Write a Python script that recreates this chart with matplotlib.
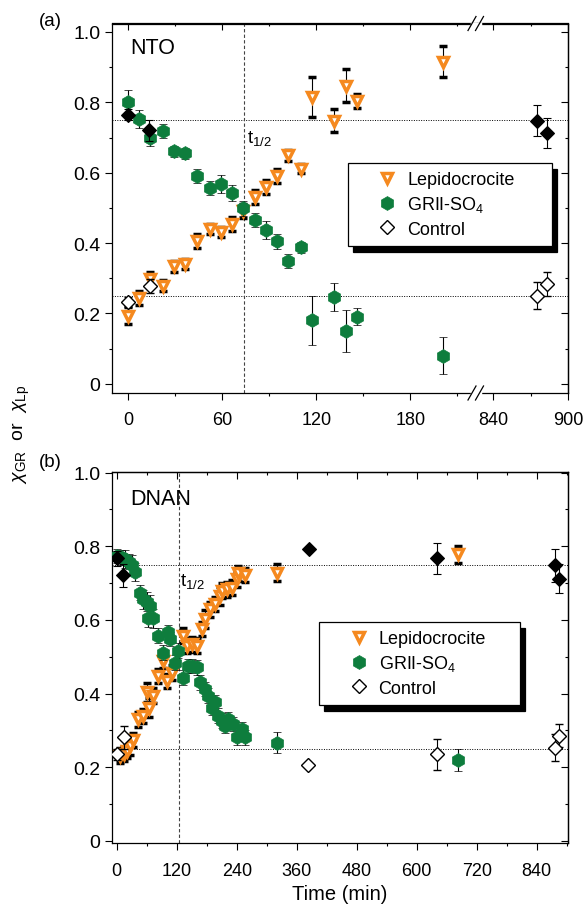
import numpy as np
import matplotlib
matplotlib.use("Agg")
import matplotlib.pyplot as plt
from matplotlib.lines import Line2D
from matplotlib.ticker import FuncFormatter

plt.rcParams['font.family'] = ['Liberation Sans', 'DejaVu Sans']
plt.rcParams['mathtext.fontset'] = 'custom'
plt.rcParams['mathtext.rm'] = 'Liberation Sans'
plt.rcParams['mathtext.it'] = 'Liberation Sans:italic'
plt.rcParams['mathtext.default'] = 'rm'
plt.rcParams['axes.linewidth'] = 0.9

ORANGE = '#F5891F'
GREEN = '#0E7D3D'
W, H = 585, 912     # output size in px (dpi 100)

# ---------------- (a) NTO ----------------
nto_t = [0, 7, 14, 22, 29, 36, 44, 52, 59, 66, 73, 81, 88, 95, 102, 110, 117, 131, 139, 146, 201]
nto_lp = [0.194, 0.243, 0.298, 0.279, 0.334, 0.341, 0.407, 0.44, 0.431, 0.455, 0.49, 0.53, 0.559,
          0.59, 0.649, 0.611, 0.814, 0.748, 0.847, 0.805, 0.916]
nto_lp_err = [0.025, 0.02, 0.02, 0.015, 0.015, 0.015, 0.02, 0.015, 0.015, 0.02, 0.02, 0.02, 0.02,
              0.02, 0.015, 0.013, 0.057, 0.033, 0.047, 0.02, 0.044]
nto_gr = [0.802, 0.753, 0.70, 0.718, 0.661, 0.655, 0.59, 0.556, 0.568, 0.543, 0.499, 0.466, 0.438,
          0.405, 0.35, 0.388, 0.181, 0.248, 0.15, 0.191, 0.08]
nto_gr_err = [0.033, 0.025, 0.025, 0.02, 0.015, 0.015, 0.02, 0.02, 0.025, 0.022, 0.022, 0.02, 0.025,
              0.022, 0.02, 0.015, 0.07, 0.04, 0.06, 0.025, 0.053]
nto_cgr_t = [0, 13, 875, 883]
nto_cgr = [0.765, 0.72, 0.748, 0.713]
nto_cgr_err = [0.015, 0.03, 0.045, 0.042]
nto_clp_t = [0, 14, 875, 883]
nto_clp = [0.232, 0.279, 0.251, 0.284]
nto_clp_err = [0.015, 0.02, 0.038, 0.034]
nto_thalf = 73.6

# ---------------- (b) DNAN ----------------
dnan_lp_t = [7, 14, 20, 27, 33, 43, 53, 60, 65, 73, 83, 93, 100, 110, 133, 140, 150, 160, 170,
             177, 187, 197, 207, 210, 220, 230, 240, 243, 257, 320, 682]
dnan_lp = [0.231, 0.236, 0.244, 0.258, 0.274, 0.33, 0.339, 0.403, 0.362, 0.394, 0.448, 0.489, 0.434,
           0.457, 0.557, 0.53, 0.534, 0.53, 0.575, 0.602, 0.629, 0.643, 0.665, 0.679, 0.683, 0.688,
           0.71, 0.727, 0.722, 0.728, 0.778]
dnan_lp_err = [0.02, 0.02, 0.02, 0.025, 0.02, 0.02, 0.02, 0.025, 0.025, 0.02, 0.02, 0.02, 0.02,
               0.02, 0.02, 0.02, 0.02, 0.02, 0.02, 0.025, 0.02, 0.02, 0.025, 0.02, 0.02, 0.02,
               0.02, 0.02, 0.02, 0.023, 0.023]
dnan_gr_t = [0, 8, 17, 25, 30, 37, 47, 53, 60, 63, 67, 73, 83, 93, 103, 107, 117, 123, 133, 143,
             150, 160, 167, 177, 183, 190, 197, 203, 210, 217, 223, 233, 240, 250, 257, 320, 682]
dnan_gr = [0.774, 0.77, 0.765, 0.758, 0.75, 0.73, 0.674, 0.656, 0.65, 0.606, 0.638, 0.604, 0.557,
           0.511, 0.566, 0.548, 0.484, 0.516, 0.443, 0.475, 0.475, 0.471, 0.43, 0.412, 0.394,
           0.362, 0.376, 0.34, 0.326, 0.312, 0.33, 0.317, 0.281, 0.303, 0.281, 0.267, 0.22]
dnan_gr_err = [0.02, 0.02, 0.025, 0.02, 0.025, 0.025, 0.02, 0.025, 0.025, 0.025, 0.03, 0.025, 0.02,
               0.02, 0.02, 0.02, 0.02, 0.02, 0.02, 0.02, 0.02, 0.02, 0.02, 0.02, 0.02, 0.02, 0.02,
               0.02, 0.02, 0.02, 0.02, 0.02, 0.02, 0.02, 0.02, 0.029, 0.03]
dnan_cgr_t = [0, 13, 384, 640, 877, 885]
dnan_cgr = [0.767, 0.721, 0.792, 0.767, 0.748, 0.712]
dnan_cgr_err = [0.02, 0.031, np.nan, 0.042, 0.045, 0.04]
dnan_clp_t = [0, 15, 383, 640, 877, 885]
dnan_clp = [0.235, 0.281, 0.206, 0.235, 0.253, 0.285]
dnan_clp_err = [0.015, 0.031, np.nan, 0.042, 0.036, 0.031]
dnan_thalf = 125

yticks = [0, 0.2, 0.4, 0.6, 0.8, 1.0]
yminor = [0.1, 0.3, 0.5, 0.7, 0.9]
legend_labels = ['Lepidocrocite', 'GRII-SO$_4$', 'Control']

# marker styles
LP = dict(marker='v', ms=7.5, mfc='white', mec=ORANGE, mew=2.5)
GR = dict(marker='h', ms=10, mfc=GREEN, mec=GREEN, mew=0.5)
CGR = dict(marker='D', ms=7, mfc='k', mec='k', mew=0.8)
CLP = dict(marker='D', ms=6.8, mfc='white', mec='k', mew=1.0)


def series(ax, t, v, e, sty, z):
    ax.errorbar(t, v, yerr=e, ls='none', ecolor='k', elinewidth=0.8,
                capsize=3.2, capthick=0.8, zorder=z, **sty)


def draw_all(ax, d):
    series(ax, *d['lp'], LP, 3)
    series(ax, *d['gr'], GR, 4)
    series(ax, *d['clp'], CLP, 5)
    series(ax, *d['cgr'], CGR, 5)
    ax.axhline(0.75, color='k', ls=(0, (1, 1.5)), lw=0.7, zorder=1)
    ax.axhline(0.25, color='k', ls=(0, (1, 1.5)), lw=0.7, zorder=1)


yfmt = FuncFormatter(lambda v, p: '0' if abs(v) < 1e-9 else f'{v:.1f}')


def ticks(ax, xt, xm, left=True, right=True, xpad=8):
    ax.set_xticks(xt)
    ax.set_xticks(xm, minor=True)
    ax.set_yticks(yticks)
    ax.set_yticks(yminor, minor=True)
    ax.yaxis.set_major_formatter(yfmt)
    ax.tick_params(which='both', direction='out', width=0.8)
    ax.tick_params(which='major', length=5)
    ax.tick_params(which='minor', length=2.5)
    ax.tick_params(axis='x', pad=xpad, labelsize=13)
    ax.tick_params(axis='y', pad=3, labelsize=14)
    top = ax.secondary_xaxis('top')
    top.set_ticks(xt)
    top.set_ticks(xm, minor=True)
    top.tick_params(which='both', direction='in', labeltop=False, width=0.8)
    top.tick_params(which='major', length=5)
    top.tick_params(which='minor', length=2.5)
    if not left:
        ax.spines['left'].set_visible(False)
        ax.tick_params(axis='y', which='both', left=False, labelleft=False)
    if right:
        r = ax.secondary_yaxis('right')
        r.set_ticks(yticks)
        r.set_ticks(yminor, minor=True)
        r.tick_params(which='both', direction='in', labelright=False, width=0.8)
        r.tick_params(which='major', length=5)
        r.tick_params(which='minor', length=2.5)
    else:
        ax.spines['right'].set_visible(False)


def px_axes(fig, x0, y0, x1, y1):
    return fig.add_axes([x0 / W, 1 - y1 / H, (x1 - x0) / W, (y1 - y0) / H])


def add_legend(fig, x0, y0, x1):
    handles = [Line2D([], [], ls='none', **LP), Line2D([], [], ls='none', **GR),
               Line2D([], [], ls='none', **CLP)]
    leg = fig.legend(handles, legend_labels, loc='upper left',
                     bbox_to_anchor=(x0 / W, 1 - y0 / H, (x1 - x0) / W, 0),
                     mode='expand', borderaxespad=0, fontsize=13, frameon=True,
                     fancybox=False, edgecolor='k', framealpha=1, borderpad=0.45,
                     labelspacing=0.35, handlelength=3.5, handletextpad=-0.65,
                     shadow={'ox': 3.6, 'oy': -4.5, 'color': 'k', 'alpha': 1})
    leg.get_frame().set_linewidth(0.9)
    return leg


fig = plt.figure(figsize=(W / 100, H / 100), dpi=100)

nto = dict(lp=(nto_t, nto_lp, nto_lp_err), gr=(nto_t, nto_gr, nto_gr_err),
           cgr=(nto_cgr_t, nto_cgr, nto_cgr_err), clp=(nto_clp_t, nto_clp, nto_clp_err))
dnan = dict(lp=(dnan_lp_t, dnan_lp, dnan_lp_err), gr=(dnan_gr_t, dnan_gr, dnan_gr_err),
            cgr=(dnan_cgr_t, dnan_cgr, dnan_cgr_err), clp=(dnan_clp_t, dnan_clp, dnan_clp_err))

# panel (a): broken time axis
brk = 476.5
a1 = px_axes(fig, 111.7, 24.5, brk, 394)
a2 = px_axes(fig, brk, 24.5, 568, 394)
for ax in (a1, a2):
    draw_all(ax, nto)
    ax.set_ylim(-0.026, 1.024)
a1.set_xlim(-10.6, 222.2)
a2.set_xlim(826.8, 900)
a1.axvline(nto_thalf, color='#444444', ls=(0, (3, 2)), lw=0.8, zorder=1)
ticks(a1, [0, 60, 120, 180], [30, 90, 150, 210], right=False)
ticks(a2, [840, 900], [870], left=False)
a1.text(0.05, 0.934, 'NTO', transform=a1.transAxes, fontsize=15.5, va='center')
a1.text(nto_thalf + 2, 0.70, '$t_{1/2}$', fontsize=13.5, va='center')

# break marks
for yb in (24.5, 394):
    fig.add_artist(Line2D([(brk - 4.5) / W, (brk + 3.5) / W], [1 - yb / H] * 2,
                          transform=fig.transFigure, color='white', lw=2.5))
    for xc in (brk - 4.5, brk + 3):
        fig.add_artist(Line2D([(xc - 4) / W, (xc + 4) / W],
                              [1 - (yb + 7) / H, 1 - (yb - 7) / H],
                              transform=fig.transFigure, color='k', lw=0.9))

add_legend(fig, 347.7, 164, 551.7)

# panel (b)
b = px_axes(fig, 111.7, 473.3, 568, 844)
draw_all(b, dnan)
b.set_xlim(-10, 902.6)
b.set_ylim(-0.006, 1.001)
b.axvline(dnan_thalf, color='#444444', ls=(0, (3, 2)), lw=0.8, zorder=1)
ticks(b, list(range(0, 841, 120)), list(range(60, 901, 120)), xpad=8.5)
b.text(0.04, 0.928, 'DNAN', transform=b.transAxes, fontsize=15.5, va='center')
b.text(dnan_thalf + 2, 0.706, '$t_{1/2}$', fontsize=13.5, va='center')
b.set_xlabel('Time (min)', fontsize=14.5, labelpad=4)

add_legend(fig, 319, 623, 520)

fig.text(50.5 / W, 1 - 21 / H, '(a)', fontsize=13.5, ha='center', va='center')
fig.text(50.5 / W, 1 - 462.5 / H, '(b)', fontsize=13.5, ha='center', va='center')
fig.text(21 / W, 1 - 434 / H, r'$\mathit{\chi}_{GR}$  or  $\mathit{\chi}_{Lp}$', fontsize=14,
         rotation=90, ha='center', va='center')

fig.savefig('out.png', dpi=100)
